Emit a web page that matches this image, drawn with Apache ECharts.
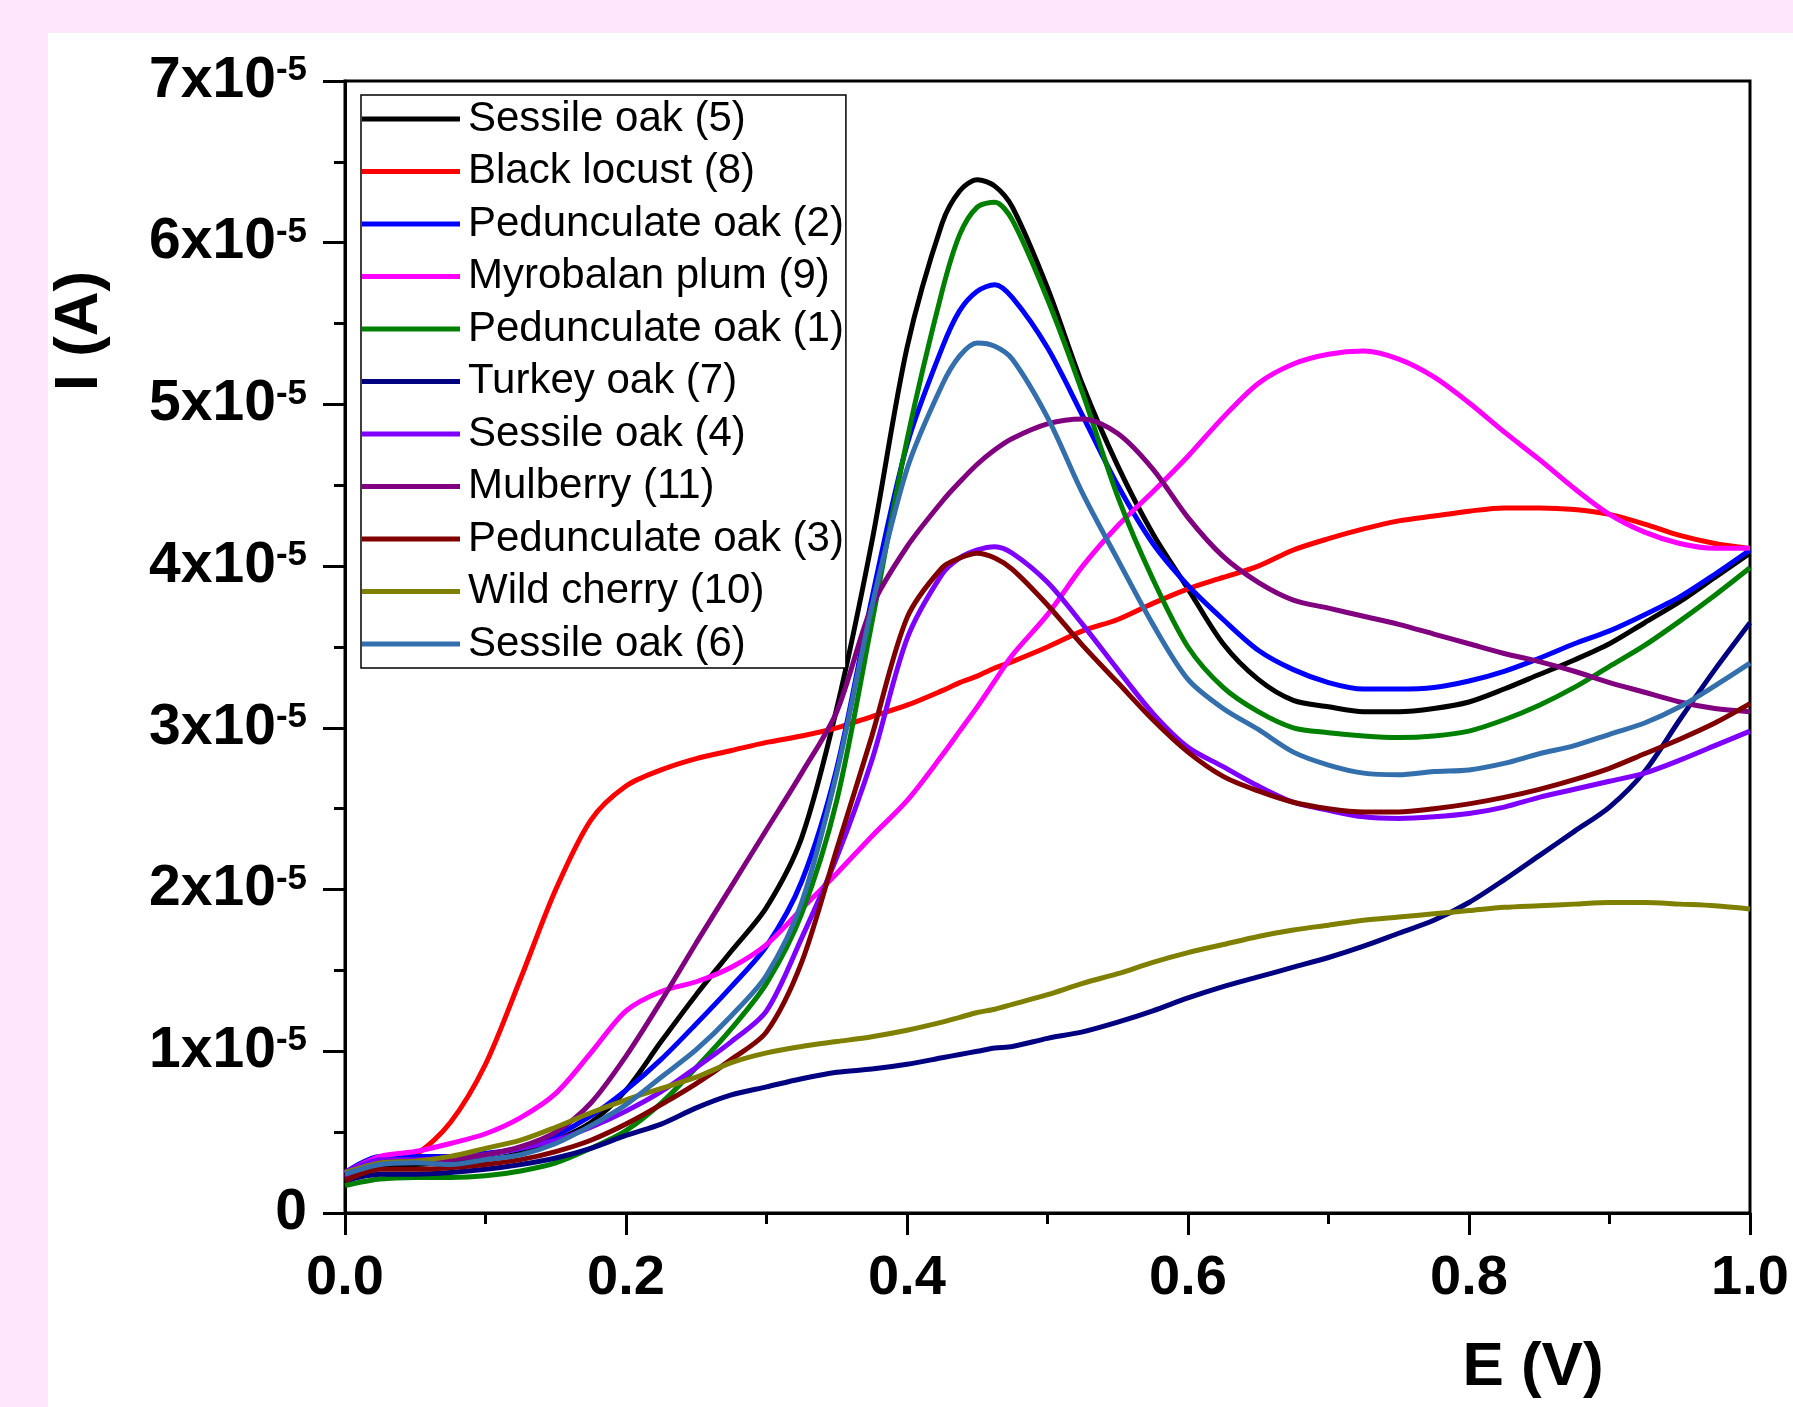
<!DOCTYPE html>
<html>
<head>
<meta charset="utf-8">
<title>I (A) vs E (V)</title>
<script src="https://cdn.jsdelivr.net/npm/echarts@6/dist/echarts.min.js"></script>
<style>
  html, body { margin: 0; padding: 0; background: #fff; }
  #main { width: 1793px; height: 1407px; }
</style>
</head>
<body>
<div id="main"></div>
<script>
// potential E (V), common to all curves (denser around the peaks)
var potential = [0, 0.025, 0.05, 0.075, 0.1, 0.125, 0.15, 0.175, 0.2, 0.225, 0.25, 0.275, 0.3, 0.325, 0.35, 0.375,
  0.4, 0.425, 0.4375, 0.45, 0.4625, 0.475, 0.5, 0.525, 0.55, 0.575, 0.6, 0.625, 0.65, 0.675, 0.7, 0.725, 0.75, 0.775,
  0.8, 0.825, 0.85, 0.875, 0.9, 0.925, 0.95, 0.975, 1.0];

// current, in units of 1x10^-5 A
var sessileOak5 = [0.22, 0.29, 0.30, 0.31, 0.33, 0.37, 0.45, 0.56, 0.76, 1.06, 1.35, 1.62, 1.89, 2.32, 3.12, 4.15,
  5.35, 6.12, 6.32, 6.39, 6.35, 6.22, 5.72, 5.12, 4.62, 4.20, 3.86, 3.52, 3.30, 3.17, 3.13, 3.10, 3.10, 3.12,
  3.16, 3.24, 3.33, 3.42, 3.52, 3.65, 3.78, 3.93, 4.08];
var blackLocust8 = [0.22, 0.30, 0.36, 0.56, 0.92, 1.45, 2.00, 2.43, 2.64, 2.74, 2.81, 2.86, 2.91, 2.95, 3.00, 3.07,
  3.14, 3.23, 3.28, 3.32, 3.37, 3.41, 3.50, 3.60, 3.67, 3.77, 3.86, 3.93, 4.00, 4.10, 4.17, 4.23, 4.28, 4.31,
  4.34, 4.36, 4.36, 4.35, 4.32, 4.26, 4.19, 4.14, 4.11];
var pedunculateOak2 = [0.25, 0.35, 0.35, 0.35, 0.37, 0.40, 0.48, 0.60, 0.76, 0.95, 1.17, 1.40, 1.65, 2.05, 2.75, 3.80,
  4.75, 5.35, 5.58, 5.70, 5.74, 5.66, 5.35, 4.93, 4.50, 4.14, 3.88, 3.67, 3.48, 3.36, 3.28, 3.24, 3.24, 3.25,
  3.29, 3.35, 3.43, 3.52, 3.60, 3.70, 3.81, 3.95, 4.10];
var myrobalanPlum9 = [0.25, 0.35, 0.38, 0.43, 0.49, 0.59, 0.74, 0.99, 1.25, 1.37, 1.43, 1.52, 1.66, 1.88, 2.10, 2.33,
  2.55, 2.83, 2.98, 3.13, 3.29, 3.45, 3.70, 4.00, 4.25, 4.46, 4.68, 4.92, 5.13, 5.25, 5.31, 5.33, 5.28, 5.17,
  5.01, 4.83, 4.66, 4.48, 4.32, 4.21, 4.14, 4.11, 4.11];
var pedunculateOak1 = [0.17, 0.21, 0.22, 0.22, 0.23, 0.26, 0.31, 0.40, 0.51, 0.68, 0.90, 1.14, 1.42, 1.85, 2.55, 3.65,
  4.78, 5.70, 6.05, 6.22, 6.25, 6.14, 5.65, 5.07, 4.43, 3.92, 3.50, 3.25, 3.10, 3.00, 2.97, 2.95, 2.94, 2.95,
  2.98, 3.05, 3.14, 3.25, 3.38, 3.51, 3.66, 3.82, 3.99];
var turkeyOak7 = [0.20, 0.24, 0.24, 0.25, 0.27, 0.30, 0.34, 0.40, 0.48, 0.55, 0.65, 0.73, 0.78, 0.83, 0.87, 0.89,
  0.92, 0.96, 0.98, 1.00, 1.02, 1.03, 1.08, 1.12, 1.18, 1.25, 1.33, 1.40, 1.46, 1.52, 1.58, 1.65, 1.73, 1.81,
  1.92, 2.06, 2.21, 2.36, 2.51, 2.73, 3.05, 3.36, 3.65];
var sessileOak4 = [0.25, 0.33, 0.33, 0.34, 0.36, 0.40, 0.45, 0.53, 0.63, 0.75, 0.90, 1.06, 1.25, 1.70, 2.20, 2.80,
  3.55, 3.95, 4.05, 4.10, 4.12, 4.08, 3.90, 3.64, 3.36, 3.09, 2.88, 2.76, 2.64, 2.54, 2.49, 2.45, 2.44, 2.45,
  2.47, 2.51, 2.57, 2.62, 2.67, 2.72, 2.80, 2.89, 2.98];
var mulberry11 = [0.22, 0.31, 0.32, 0.33, 0.36, 0.41, 0.50, 0.68, 0.97, 1.31, 1.67, 2.02, 2.37, 2.72, 3.10, 3.75,
  4.12, 4.40, 4.52, 4.63, 4.72, 4.79, 4.88, 4.91, 4.82, 4.60, 4.30, 4.06, 3.90, 3.79, 3.74, 3.69, 3.64, 3.58,
  3.52, 3.46, 3.41, 3.35, 3.28, 3.22, 3.16, 3.12, 3.10];
var pedunculateOak3 = [0.20, 0.27, 0.27, 0.28, 0.30, 0.33, 0.38, 0.45, 0.55, 0.67, 0.80, 0.95, 1.12, 1.55, 2.25, 2.95,
  3.68, 3.99, 4.05, 4.08, 4.05, 3.98, 3.76, 3.51, 3.28, 3.05, 2.85, 2.70, 2.61, 2.54, 2.50, 2.48, 2.48, 2.50,
  2.53, 2.57, 2.62, 2.68, 2.75, 2.84, 2.93, 3.03, 3.15];
var wildCherry10 = [0.25, 0.31, 0.32, 0.35, 0.40, 0.45, 0.53, 0.62, 0.70, 0.77, 0.84, 0.93, 0.99, 1.03, 1.06, 1.09,
  1.13, 1.18, 1.21, 1.24, 1.26, 1.29, 1.35, 1.42, 1.48, 1.55, 1.61, 1.66, 1.71, 1.75, 1.78, 1.81, 1.83, 1.85,
  1.87, 1.89, 1.90, 1.91, 1.92, 1.92, 1.91, 1.90, 1.88];
var sessileOak6 = [0.24, 0.30, 0.31, 0.30, 0.33, 0.36, 0.43, 0.54, 0.67, 0.84, 1.01, 1.22, 1.47, 1.92, 2.72, 3.75,
  4.60, 5.12, 5.30, 5.38, 5.36, 5.28, 4.92, 4.45, 4.04, 3.64, 3.30, 3.12, 2.99, 2.85, 2.77, 2.72, 2.71, 2.73,
  2.74, 2.78, 2.84, 2.89, 2.96, 3.03, 3.13, 3.26, 3.40];

var seriesNames = ["Sessile oak (5)", "Black locust (8)", "Pedunculate oak (2)", "Myrobalan plum (9)",
  "Pedunculate oak (1)", "Turkey oak (7)", "Sessile oak (4)", "Mulberry (11)", "Pedunculate oak (3)",
  "Wild cherry (10)", "Sessile oak (6)"];
var seriesValues = [sessileOak5, blackLocust8, pedunculateOak2, myrobalanPlum9, pedunculateOak1, turkeyOak7,
  sessileOak4, mulberry11, pedunculateOak3, wildCherry10, sessileOak6];
var colors = ["#000000", "#ff0000", "#0000ff", "#ff00ff", "#008000", "#000080",
  "#8000ff", "#800080", "#800000", "#808000", "#336fad"];

var xTicks = [0, 0.2, 0.4, 0.6, 0.8, 1.0];
var yTicks = [0, 1, 2, 3, 4, 5, 6, 7];

var font = "'Liberation Sans', Arial, sans-serif";
var myChart = echarts.init(document.getElementById("main"));

var series = [];
for (var i = 0; i < seriesNames.length; i++) {
  var pts = [];
  for (var k = 0; k < potential.length; k++) {
    pts.push([potential[k], seriesValues[i][k]]);
  }
  series.push({
    name: seriesNames[i],
    type: "line",
    data: pts,
    smooth: 0.3,
    showSymbol: false,
    symbol: "none",
    lineStyle: { width: 5, color: colors[i] },
    itemStyle: { color: colors[i] }
  });
}

var option = {
  animation: false,
  backgroundColor: "#ffffff",
  color: colors,
  grid: {
    left: 345,
    top: 81,
    width: 1405,
    height: 1132,
    show: true,
    borderColor: "#000",
    borderWidth: 3,
    backgroundColor: "transparent"
  },
  legend: {
    orient: "vertical",
    left: 361,
    top: 95,
    padding: [3, 2, 3, 1],
    borderColor: "#000",
    borderWidth: 1.5,
    backgroundColor: "#fff",
    icon: "rect",
    itemWidth: 98,
    itemHeight: 5,
    itemGap: 10.5,
    selectedMode: false,
    textStyle: {
      fontSize: 42,
      fontFamily: font,
      color: "#000",
      lineHeight: 42,
      padding: [0, 0, 0, 3]
    },
    data: seriesNames
  },
  xAxis: {
    type: "value",
    min: xTicks[0],
    max: xTicks[xTicks.length - 1],
    interval: 0.2,
    axisLine: { lineStyle: { color: "#000", width: 3 } },
    axisTick: { length: 22, lineStyle: { color: "#000", width: 3 } },
    minorTick: { show: true, splitNumber: 2, length: 11, lineStyle: { color: "#000", width: 3 } },
    splitLine: { show: false },
    axisLabel: {
      margin: 38,
      fontSize: 56,
      fontWeight: "bold",
      fontFamily: font,
      color: "#000",
      formatter: function (v) { return v.toFixed(1); }
    }
  },
  yAxis: {
    type: "value",
    min: yTicks[0],
    max: yTicks[yTicks.length - 1],
    interval: 1,
    axisLine: { lineStyle: { color: "#000", width: 3 } },
    axisTick: { length: 22, lineStyle: { color: "#000", width: 3 } },
    minorTick: { show: true, splitNumber: 2, length: 11, lineStyle: { color: "#000", width: 3 } },
    splitLine: { show: false },
    axisLabel: {
      margin: 38,
      color: "#000",
      formatter: function (v) {
        if (v === 0) return "{a|0}";
        return "{a|" + v + "x10}{b|-5}";
      },
      rich: {
        a: { fontSize: 57, fontWeight: "bold", fontFamily: font, color: "#000", lineHeight: 56 },
        b: { fontSize: 35, fontWeight: "bold", fontFamily: font, color: "#000", lineHeight: 16, verticalAlign: "top" }
      }
    }
  },
  graphic: [
    { type: "rect", shape: { x: 0, y: 0, width: 1793, height: 33 }, style: { fill: "#fee6fd" }, silent: true },
    { type: "rect", shape: { x: 0, y: 0, width: 48, height: 1407 }, style: { fill: "#fee6fd" }, silent: true },
    {
      type: "text", x: 1533, y: 1368,
      style: { text: "E (V)", font: "bold 62px " + font, fill: "#000", textAlign: "center", textVerticalAlign: "middle" }
    },
    {
      type: "text", x: 80, y: 331, rotation: Math.PI / 2,
      style: { text: "I (A)", font: "bold 62px " + font, fill: "#000", textAlign: "center", textVerticalAlign: "middle" }
    }
  ],
  series: series
};

myChart.setOption(option);
</script>
</body>
</html>
